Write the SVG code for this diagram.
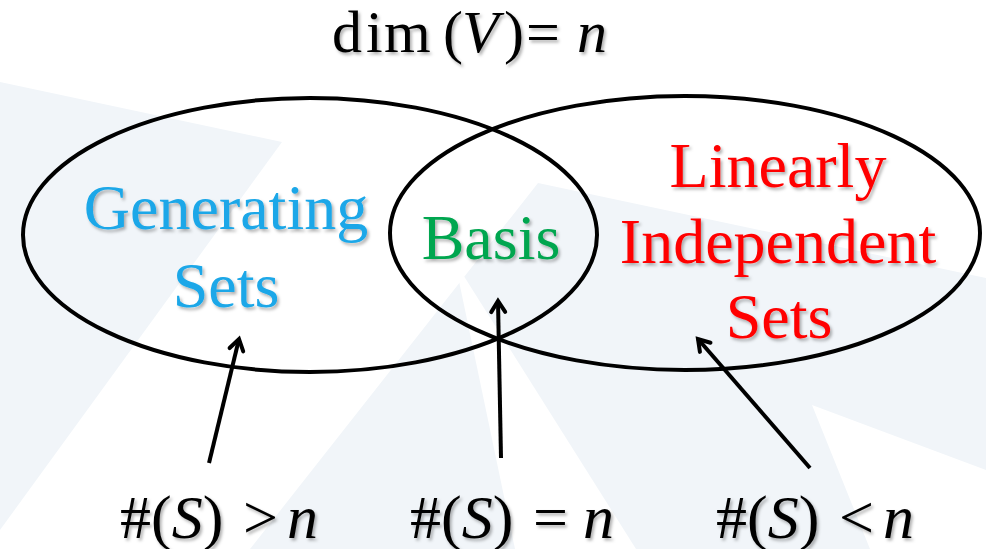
<svg xmlns="http://www.w3.org/2000/svg" width="986" height="549" viewBox="0 0 986 549">
<defs>
<filter id="sh" x="-10%" y="-20%" width="120%" height="150%">
<feDropShadow dx="2" dy="2.5" stdDeviation="1.5" flood-color="#000" flood-opacity="0.3"/>
</filter>
<marker id="ah" viewBox="0 0 20 20" refX="15" refY="10" markerWidth="20" markerHeight="20" markerUnits="userSpaceOnUse" orient="auto">
<path d="M4,3 L15,10 L4,17" fill="none" stroke="#000" stroke-width="4" stroke-linecap="round"/>
</marker>
<style>
text, tspan { font-family: 'Liberation Serif', Tinos, 'Times New Roman', serif !important; }
.lbl { font-size: 64px; text-anchor: middle; filter: url(#sh); }
.math { font-size: 62px; fill: #000; filter: url(#sh); }
.it { font-style: italic; }
.bg { fill: #F1F5F9; stroke: none; }
.ell { fill: none; stroke: #000; stroke-width: 4; }
.conn { stroke: #000; stroke-width: 4; fill: none; marker-end: url(#ah); }
</style>
</defs>
<rect width="986" height="549" fill="#fff"/>
<g id="background">
<polygon class="bg" points="0,82 282,142 0,530"/>
<polygon class="bg" points="538,183 986,278 986,470 812,405 870,549 250,549"/>
<polygon points="455,262 515,549 636,549" fill="#fff"/>
</g>
<g id="title">
<text class="math" style="font-family:'Liberation Serif',Tinos,serif;font-size:60px" y="52"><tspan x="332">d</tspan><tspan x="366">i</tspan><tspan x="384">m</tspan><tspan x="443">(</tspan><tspan x="462" class="it">V</tspan><tspan x="504">)</tspan><tspan x="526">=</tspan><tspan x="577" class="it">n</tspan></text>
</g>
<g id="generating-sets">
<text class="lbl" style="font-family:'Liberation Serif',Tinos,serif" fill="#1AA7E8" x="226" y="229">Generating</text>
<text class="lbl" style="font-family:'Liberation Serif',Tinos,serif" fill="#1AA7E8" x="226" y="307">Sets</text>
</g>
<g id="linearly-independent-sets">
<text class="lbl" style="font-family:'Liberation Serif',Tinos,serif" fill="#FF0000" x="778" y="187">Linearly</text>
<text class="lbl" style="font-family:'Liberation Serif',Tinos,serif" fill="#FF0000" x="778" y="263">Independent</text>
<text class="lbl" style="font-family:'Liberation Serif',Tinos,serif" fill="#FF0000" x="779" y="338">Sets</text>
</g>
<g id="basis">
<text class="lbl" style="font-family:'Liberation Serif',Tinos,serif" fill="#00A650" x="491" y="259">Basis</text>
</g>
<g id="label-gt">
<text class="math" style="font-family:'Liberation Serif',Tinos,serif" y="538"><tspan x="120">#(</tspan><tspan class="it">S</tspan><tspan>)</tspan><tspan x="243">&gt;</tspan><tspan x="287" class="it">n</tspan></text>
</g>
<g id="label-eq">
<text class="math" style="font-family:'Liberation Serif',Tinos,serif" y="538"><tspan x="410">#(</tspan><tspan class="it">S</tspan><tspan>)</tspan><tspan x="533">=</tspan><tspan x="583" class="it">n</tspan></text>
</g>
<g id="label-lt">
<text class="math" style="font-family:'Liberation Serif',Tinos,serif" y="538"><tspan x="716">#(</tspan><tspan class="it">S</tspan><tspan>)</tspan><tspan x="839">&lt;</tspan><tspan x="883" class="it">n</tspan></text>
</g>
<g id="shapes">
<ellipse class="ell" cx="310" cy="235" rx="287" ry="137"/>
<ellipse class="ell" cx="685" cy="233" rx="295" ry="137"/>
</g>
<g id="connectors">
<line class="conn" x1="209" y1="463" x2="239" y2="339"/>
<line class="conn" x1="501" y1="458" x2="498" y2="301"/>
<line class="conn" x1="810" y1="468" x2="698" y2="339"/>
</g>
</svg>
